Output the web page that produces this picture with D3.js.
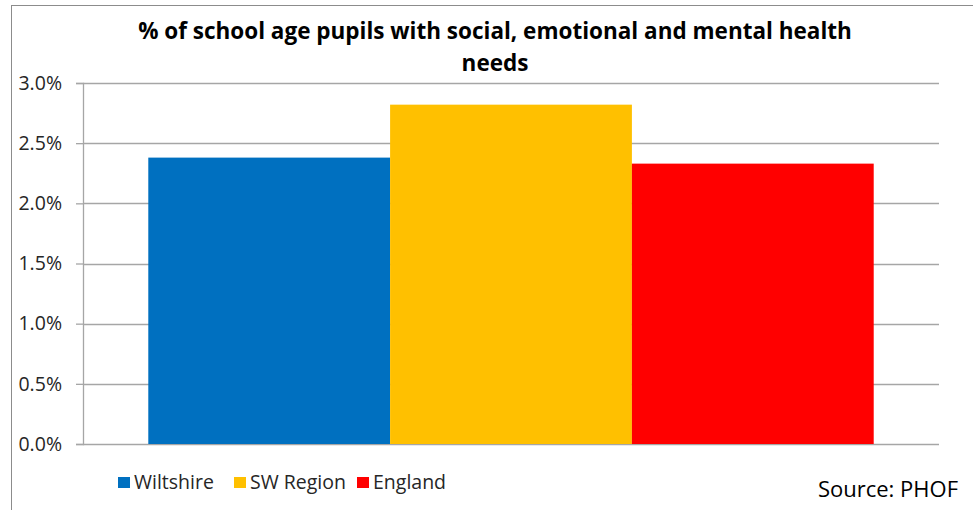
<!DOCTYPE html>
<html>
<head>
<meta charset="utf-8">
<script src="https://cdn.jsdelivr.net/npm/d3@7"></script>
<style>
  body { margin: 0; background: #fff; }
  text { font-family: "Open Sans", "Noto Sans", sans-serif; fill: #262626; }
</style>
</head>
<body>
<div id="chart"></div>
<script>
// data
const series = ['Wiltshire', 'SW Region', 'England'];
const values = [2.38, 2.82, 2.33];
const colors = ['#0070C0', '#FFC000', '#FF0000'];
const yTicks = [0, 0.5, 1.0, 1.5, 2.0, 2.5, 3.0];
const titleLines = ['% of school age pupils with social, emotional and mental health', 'needs'];

const width = 973;
const height = 510;
const margin = { top: 83, right: 34, bottom: 66, left: 83 };
const innerW = width - margin.left - margin.right;
const innerH = height - margin.top - margin.bottom;

const svg = d3
  .select('#chart')
  .append('svg')
  .attr('width', width)
  .attr('height', height);

// chart frame
svg
  .append('rect')
  .attr('x', 11.5)
  .attr('y', 5.5)
  .attr('width', width)
  .attr('height', height)
  .attr('fill', 'none')
  .attr('stroke', '#8c8c8c')
  .attr('stroke-width', 1);

// title
svg
  .append('text')
  .attr('text-anchor', 'middle')
  .attr('font-weight', 'bold')
  .style('font-size', '22.5px')
  .style('fill', '#000')
  .selectAll('tspan')
  .data(titleLines)
  .join('tspan')
  .attr('x', 495)
  .attr('y', (d, i) => 39 + i * 32)
  .text((d) => d);

const group = svg
  .append('g')
  .attr('transform', 'translate(' + margin.left + ',' + margin.top + ')');

const y = d3.scaleLinear().domain([0, 3]).range([innerH, 0]);
const x = d3
  .scaleBand()
  .domain(series)
  .range([0, innerW])
  .paddingInner(0)
  .paddingOuter(0.27);

// gridlines
group
  .selectAll('.grid')
  .data(yTicks)
  .join('line')
  .attr('class', 'grid')
  .attr('x1', 0)
  .attr('x2', innerW)
  .attr('y1', (d) => Math.round(y(d)) + 0.5)
  .attr('y2', (d) => Math.round(y(d)) + 0.5)
  .attr('stroke', '#a6a6a6')
  .attr('stroke-width', 1.3);

// bars
group
  .selectAll('.bar')
  .data(values)
  .join('rect')
  .attr('class', 'bar')
  .attr('x', (d, i) => x(series[i]))
  .attr('y', (d) => y(d))
  .attr('width', x.bandwidth())
  .attr('height', (d) => innerH - y(d))
  .attr('fill', (d, i) => colors[i]);

// y axis
const yAxis = d3
  .axisLeft(y)
  .tickValues(yTicks)
  .tickSize(7)
  .tickPadding(14)
  .tickFormat((d) => d.toFixed(1) + '%');

const axisG = group.append('g').call(yAxis);
axisG.select('.domain').attr('stroke', '#a6a6a6').attr('stroke-width', 1.3);
axisG.selectAll('.tick line').attr('stroke', '#a6a6a6').attr('stroke-width', 1.3);
axisG
  .selectAll('.tick text')
  .style('font-size', '19.5px')
  .style('font-family', '"Open Sans", sans-serif')
  .attr('fill', '#262626');

// legend
const legendX = [118, 234, 357];
const legend = svg
  .selectAll('.legend')
  .data(series)
  .join('g')
  .attr('class', 'legend')
  .attr('transform', (d, i) => 'translate(' + legendX[i] + ',477)');

legend
  .append('rect')
  .attr('width', 12)
  .attr('height', 11)
  .attr('fill', (d, i) => colors[i]);

legend
  .append('text')
  .attr('x', 16)
  .attr('y', 12)
  .style('font-size', '19.5px')
  .text((d) => d);

// source note
svg
  .append('text')
  .attr('x', 958)
  .attr('y', 497)
  .attr('text-anchor', 'end')
  .style('font-size', '22px')
  .style('fill', '#000')
  .text('Source: PHOF');
</script>
</body>
</html>
